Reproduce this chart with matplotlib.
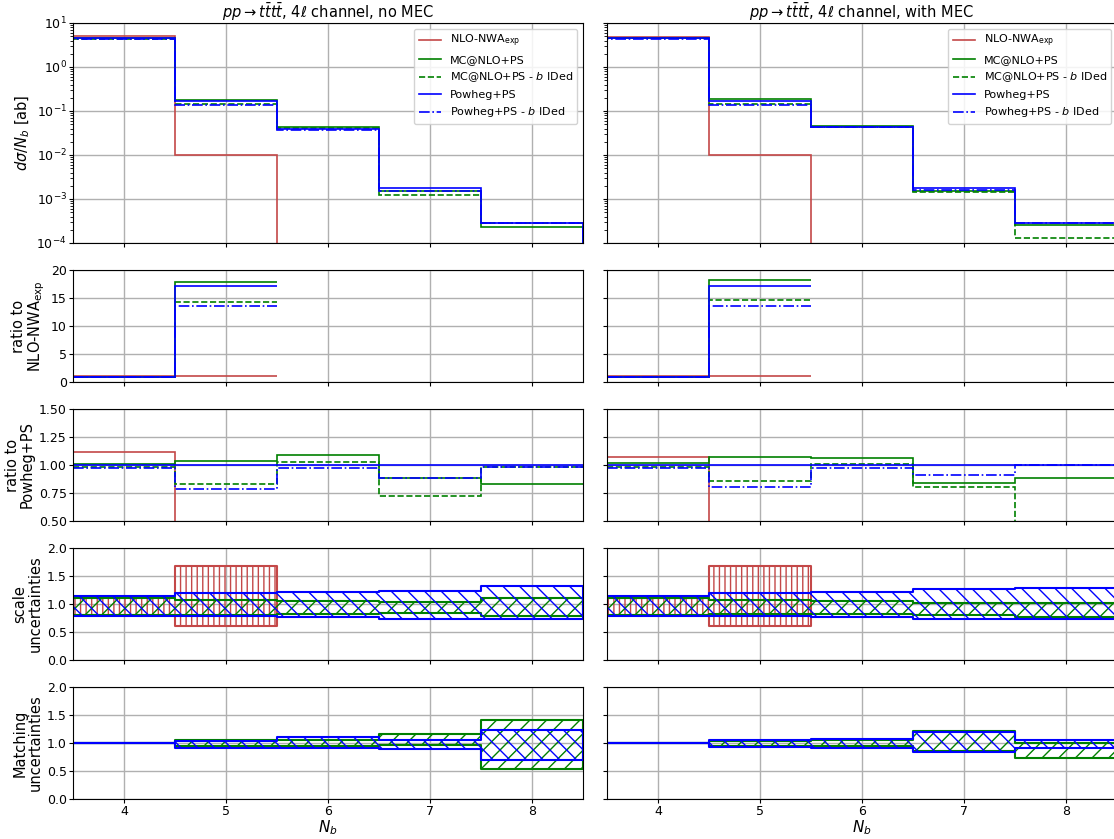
import matplotlib.pyplot as plt

# bins in N_b
edges = [3.5, 4.5, 5.5, 6.5, 7.5, 8.5]
nb_ticks = [4, 5, 6, 7, 8]

# ---- no MEC (left column) ----
# cross sections [ab]
xs_nlo_nomec = [5.0, 0.010]
xs_mc_nomec = [4.5, 0.179, 0.0425, 0.00154, 2.37e-4]
xs_mcb_nomec = [4.37, 0.143, 0.0402, 0.00126, 2.79e-4]
xs_pw_nomec = [4.46, 0.172, 0.039, 0.00175, 2.85e-4]
xs_pwb_nomec = [4.33, 0.136, 0.0378, 0.00154, 2.79e-4]
# ratio to NLO-NWA_exp (only N_b = 4, 5 exist)
rn_nlo_nomec = [1.0, 1.0]
rn_mc_nomec = [0.90, 17.9]
rn_mcb_nomec = [0.88, 14.3]
rn_pw_nomec = [0.89, 17.2]
rn_pwb_nomec = [0.87, 13.6]
# ratio to Powheg+PS
rp_nlo_nomec = [1.12, 0.06]
rp_mc_nomec = [1.01, 1.04, 1.09, 0.88, 0.83]
rp_mcb_nomec = [0.98, 0.83, 1.03, 0.72, 0.98]
rp_pw_nomec = [1.0, 1.0, 1.0, 1.0, 1.0]
rp_pwb_nomec = [0.97, 0.79, 0.97, 0.88, 0.98]
# scale uncertainty bands
sc_nlo_lo_nomec = [0.80, 0.61]
sc_nlo_hi_nomec = [1.12, 1.68]
sc_mc_lo_nomec = [0.80, 0.80, 0.82, 0.84, 0.79]
sc_mc_hi_nomec = [1.10, 1.07, 1.05, 1.03, 1.11]
sc_pw_lo_nomec = [0.79, 0.79, 0.76, 0.74, 0.73]
sc_pw_hi_nomec = [1.15, 1.19, 1.22, 1.24, 1.33]
# matching uncertainty bands
mt_mc_lo_nomec = [1.0, 0.95, 0.95, 0.97, 0.54]
mt_mc_hi_nomec = [1.0, 1.06, 1.06, 1.16, 1.41]
mt_pw_lo_nomec = [1.0, 0.91, 0.91, 0.90, 0.70]
mt_pw_hi_nomec = [1.0, 1.03, 1.11, 1.06, 1.24]

# ---- with MEC (right column) ----
xs_nlo_mec = [4.9, 0.010]
xs_mc_mec = [4.65, 0.183, 0.0466, 0.00151, 2.5e-4]
xs_mcb_mec = [4.49, 0.147, 0.0444, 0.00144, 1.31e-4]
xs_pw_mec = [4.58, 0.171, 0.044, 0.0018, 2.84e-4]
xs_pwb_mec = [4.44, 0.137, 0.0427, 0.00164, 2.84e-4]
rn_nlo_mec = [1.0, 1.0]
rn_mc_mec = [0.95, 18.3]
rn_mcb_mec = [0.92, 14.6]
rn_pw_mec = [0.93, 17.1]
rn_pwb_mec = [0.91, 13.5]
rp_nlo_mec = [1.07, 0.06]
rp_mc_mec = [1.015, 1.07, 1.06, 0.84, 0.88]
rp_mcb_mec = [0.98, 0.86, 1.01, 0.80, 0.46]
rp_pw_mec = [1.0, 1.0, 1.0, 1.0, 1.0]
rp_pwb_mec = [0.97, 0.80, 0.97, 0.91, 1.0]
sc_nlo_lo_mec = [0.80, 0.61]
sc_nlo_hi_mec = [1.11, 1.68]
sc_mc_lo_mec = [0.80, 0.82, 0.82, 0.80, 0.76]
sc_mc_hi_mec = [1.10, 1.08, 1.05, 1.02, 1.01]
sc_pw_lo_mec = [0.79, 0.79, 0.76, 0.74, 0.73]
sc_pw_hi_mec = [1.15, 1.19, 1.21, 1.27, 1.29]
mt_mc_lo_mec = [1.0, 0.95, 0.95, 0.86, 0.74]
mt_mc_hi_mec = [1.0, 1.03, 1.05, 1.22, 1.00]
mt_pw_lo_mec = [1.0, 0.92, 0.91, 0.84, 0.91]
mt_pw_hi_mec = [1.0, 1.06, 1.08, 1.20, 1.06]

red = '#c44848'
green = 'green'
blue = 'blue'

W, H = 1114, 839
fig = plt.figure(figsize=(W / 100, H / 100), dpi=100)

rows = [(23, 220), (270, 112), (409, 112), (548, 112), (687, 112)]
cols = [73, 607]
pw_ = 510


def place(x, top, h):
    return [x / W, 1 - (top + h) / H, pw_ / W, h / H]


columns = [
    dict(title=r'$pp \rightarrow t\bar{t}t\bar{t}$, 4$\ell$ channel, no MEC',
         xs=[xs_nlo_nomec, xs_mc_nomec, xs_mcb_nomec, xs_pw_nomec, xs_pwb_nomec],
         rn=[rn_nlo_nomec, rn_mc_nomec, rn_mcb_nomec, rn_pw_nomec, rn_pwb_nomec],
         rp=[rp_nlo_nomec, rp_mc_nomec, rp_mcb_nomec, rp_pw_nomec, rp_pwb_nomec],
         sc=[(sc_nlo_lo_nomec, sc_nlo_hi_nomec), (sc_mc_lo_nomec, sc_mc_hi_nomec),
             (sc_pw_lo_nomec, sc_pw_hi_nomec)],
         mt=[(mt_mc_lo_nomec, mt_mc_hi_nomec), (mt_pw_lo_nomec, mt_pw_hi_nomec)]),
    dict(title=r'$pp \rightarrow t\bar{t}t\bar{t}$, 4$\ell$ channel, with MEC',
         xs=[xs_nlo_mec, xs_mc_mec, xs_mcb_mec, xs_pw_mec, xs_pwb_mec],
         rn=[rn_nlo_mec, rn_mc_mec, rn_mcb_mec, rn_pw_mec, rn_pwb_mec],
         rp=[rp_nlo_mec, rp_mc_mec, rp_mcb_mec, rp_pw_mec, rp_pwb_mec],
         sc=[(sc_nlo_lo_mec, sc_nlo_hi_mec), (sc_mc_lo_mec, sc_mc_hi_mec),
             (sc_pw_lo_mec, sc_pw_hi_mec)],
         mt=[(mt_mc_lo_mec, mt_mc_hi_mec), (mt_pw_lo_mec, mt_pw_hi_mec)]),
]

labels = [r'NLO-NWA$_{\rm exp}$', 'MC@NLO+PS', r'MC@NLO+PS - $b$ IDed',
          'Powheg+PS', r'Powheg+PS - $b$ IDed']
colors = [red, green, green, blue, blue]
styles = ['-', '-', '--', '-', '-.']
ylabels = [r'$d\sigma/N_b$ [ab]', 'ratio to\n' + r'NLO-NWA$_{\rm exp}$',
           'ratio to\nPowheg+PS', 'scale\nuncertainties', 'Matching\nuncertainties']

left_axes = []
for ci, (x0, col) in enumerate(zip(cols, columns)):
    axs = [fig.add_axes(place(x0, t, h)) for t, h in rows]

    # cross sections
    ax = axs[0]
    for vals, c, ls, lab in zip(col['xs'], colors, styles, labels):
        e = edges[:len(vals) + 1]
        ax.stairs(vals, e, baseline=1e-6, color=c, ls=ls, lw=1.2, label=lab)
    ax.set_yscale('log')
    ax.set_ylim(1e-4, 10)
    ax.set_title(col['title'], fontsize=10.5, pad=0)
    ax.legend(loc='upper right', fontsize=8, framealpha=0.85)

    # ratio to NLO
    ax = axs[1]
    for vals, c, ls in zip(col['rn'], colors, styles):
        ax.stairs(vals, edges[:3], baseline=None, color=c, ls=ls, lw=1.2)
    ax.set_ylim(0, 20)
    ax.set_yticks([0, 5, 10, 15, 20])

    # ratio to Powheg
    ax = axs[2]
    for vals, c, ls in zip(col['rp'], colors, styles):
        ax.stairs(vals, edges[:len(vals) + 1], baseline=None, color=c, ls=ls, lw=1.2)
    ax.set_ylim(0.5, 1.5)
    ax.set_yticks([0.5, 0.75, 1.0, 1.25, 1.5])

    # scale uncertainties
    ax = axs[3]
    for (lo, hi), c, hatch in zip(col['sc'], [red, green, blue], ['|||', '//', '\\\\']):
        e = edges[:len(lo) + 1]
        ax.fill_between(e, lo + [lo[-1]], hi + [hi[-1]], step='post',
                        facecolor='none', edgecolor=c, hatch=hatch, lw=1.5)
    ax.set_ylim(0, 2)
    ax.set_yticks([0, 0.5, 1.0, 1.5, 2.0])

    # matching uncertainties
    ax = axs[4]
    for (lo, hi), c, hatch in zip(col['mt'], [green, blue], ['//', '\\\\']):
        ax.fill_between(edges, lo + [lo[-1]], hi + [hi[-1]], step='post',
                        facecolor='none', edgecolor=c, hatch=hatch, lw=1.5)
    ax.set_ylim(0, 2)
    ax.set_yticks([0, 0.5, 1.0, 1.5, 2.0])
    ax.set_xlabel(r'$N_b$', fontsize=11, labelpad=0)

    for i, ax in enumerate(axs):
        ax.set_xlim(3.5, 8.5)
        ax.set_xticks(nb_ticks)
        ax.grid(True, color='#b0b0b0', lw=1.0)
        ax.set_axisbelow(True)
        ax.tick_params(labelsize=9, length=3, pad=1.5)
        if i < 4:
            ax.tick_params(labelbottom=False)
        if ci == 0:
            ax.set_ylabel(ylabels[i], fontsize=10.5, linespacing=1.0, labelpad=3)
        else:
            ax.tick_params(labelleft=False)
    if ci == 0:
        left_axes = axs

fig.align_ylabels(left_axes)
fig.savefig('out.png', dpi=100)
